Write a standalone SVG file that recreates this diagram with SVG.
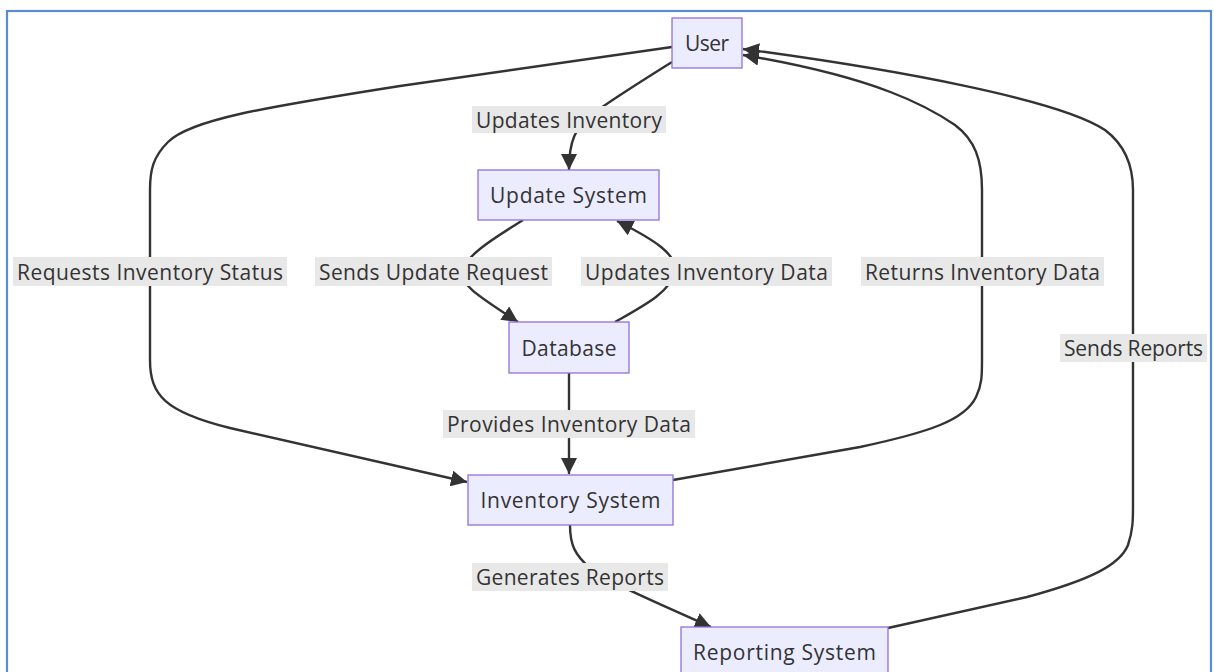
<svg xmlns="http://www.w3.org/2000/svg" width="1214" height="672" viewBox="0 0 1214 672">
  <style>
    .node rect { fill: #ECECFF; stroke: #9370DB; stroke-width: 1.3; }
    .node text { fill: #333333; font-family: "Open Sans", "DejaVu Sans", sans-serif; font-size: 21px; text-anchor: middle; dominant-baseline: central; }
    .edge { fill: none; stroke: #333333; stroke-width: 2.4; marker-end: url(#arrow); }
    .label rect { fill: #E8E8E8; }
    .label text { fill: #333333; font-family: "Open Sans", "DejaVu Sans", sans-serif; font-size: 21px; text-anchor: middle; dominant-baseline: central; }
  </style>
  <defs>
    <marker id="arrow" viewBox="0 0 10 10" refX="10" refY="5" markerUnits="userSpaceOnUse" markerWidth="16" markerHeight="16" orient="auto">
      <path d="M0,0 L10,5 L0,10 z" fill="#333333"/>
    </marker>
  </defs>

  <rect width="1214" height="672" fill="#FFFFFF"/>
  <!-- outer frame -->
  <rect x="7" y="11" width="1204" height="700" fill="none" stroke="#5B8BD0" stroke-width="2.2"/>

  <g id="connectors">
    <!-- User -> Update System -->
    <path class="edge" d="M672,62 C640,82 605,104 590,116 C576,128 569,140 569,170"/>
    <!-- User -> Inventory System -->
    <path class="edge" d="M672,47 L400,86 C260,108 190,120 168,142 C153,157 150,170 150,190 L150,360 C150,395 165,412 230,428 L467,482"/>
    <!-- Update System -> Database -->
    <path class="edge" d="M523,220 C495,238 470,252 462,270 C458,285 485,300 518,322"/>
    <!-- Database -> Update System -->
    <path class="edge" d="M615,322 C645,305 670,292 675,272 C678,255 655,240 617,221"/>
    <!-- Database -> Inventory System -->
    <path class="edge" d="M569,373 L569,474"/>
    <!-- Inventory System -> User -->
    <path class="edge" d="M673,480 L860,447 C930,432 965,420 976,397 C982,385 982,375 982,360 L982,190 C982,160 975,140 955,125 C930,108 880,78 743,55"/>
    <!-- Reporting System -> User -->
    <path class="edge" d="M888,628 L1027,597 C1090,580 1120,565 1128,545 C1133,530 1133,520 1133,505 L1133,190 C1133,165 1125,145 1105,130 C1060,100 900,70 743,49"/>
    <!-- Inventory System -> Reporting System -->
    <path class="edge" d="M570,525 C570,545 575,555 590,568 C600,578 650,600 711,627"/>
  </g>

  <g id="edge-labels">
    <g class="label"><rect x="472" y="106" width="194" height="27"/><text x="569" y="119.5" textLength="186">Updates Inventory</text></g>
    <g class="label"><rect x="13" y="257" width="274" height="29"/><text x="150" y="271.5" textLength="266">Requests Inventory Status</text></g>
    <g class="label"><rect x="315" y="257" width="237" height="29"/><text x="433.5" y="271.5" textLength="229">Sends Update Request</text></g>
    <g class="label"><rect x="581" y="257" width="251" height="29"/><text x="706.5" y="271.5" textLength="243">Updates Inventory Data</text></g>
    <g class="label"><rect x="861" y="257" width="243" height="29"/><text x="982.5" y="271.5" textLength="235">Returns Inventory Data</text></g>
    <g class="label"><rect x="1060" y="334" width="147" height="28"/><text x="1133.5" y="348" textLength="139">Sends Reports</text></g>
    <g class="label"><rect x="443" y="410" width="252" height="28"/><text x="569" y="424" textLength="244">Provides Inventory Data</text></g>
    <g class="label"><rect x="472" y="563" width="196" height="28"/><text x="570" y="577" textLength="188">Generates Reports</text></g>
  </g>

  <g id="node-user" class="node">
    <rect x="672" y="18" width="70" height="50"/>
    <text x="707" y="43" textLength="44">User</text>
  </g>
  <g id="node-update-system" class="node">
    <rect x="478" y="170" width="181" height="50"/>
    <text x="568.5" y="195" textLength="157">Update System</text>
  </g>
  <g id="node-database" class="node">
    <rect x="509" y="322" width="120" height="51"/>
    <text x="569" y="347.5" textLength="95">Database</text>
  </g>
  <g id="node-inventory-system" class="node">
    <rect x="468" y="475" width="205" height="50"/>
    <text x="570.5" y="500" textLength="180">Inventory System</text>
  </g>
  <g id="node-reporting-system" class="node">
    <rect x="681" y="627" width="207" height="50"/>
    <text x="784.5" y="652" textLength="183">Reporting System</text>
  </g>
</svg>
